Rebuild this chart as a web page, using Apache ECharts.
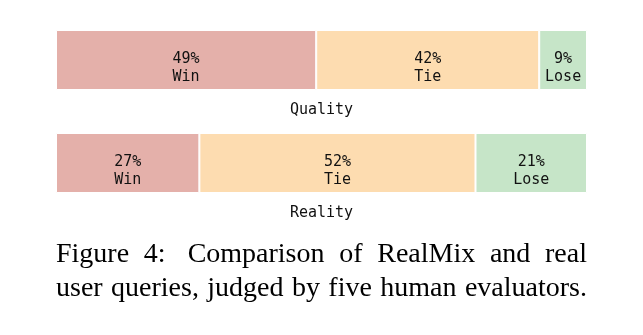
<!DOCTYPE html>
<html>
<head>
<meta charset="utf-8">
<script src="https://cdn.jsdelivr.net/npm/echarts@6/dist/echarts.min.js"></script>
<style>
  html, body { margin: 0; padding: 0; background: #fff; }
  #chart { width: 643px; height: 335px; }
</style>
</head>
<body>
<div id="chart"></div>
<script>
// Share of judgements per aspect (percent)
const aspects = ['Quality', 'Reality'];
const outcomes = ['Win', 'Tie', 'Lose'];
const winValues = [49, 27];
const tieValues = [42, 52];
const loseValues = [9, 21];
const outcomeColors = ['#e4b0aa', '#fddcb0', '#c6e5c8'];
const captionLines = [
  'Figure 4: Comparison of RealMix and real',
  'user queries, judged by five human evaluators.'
];

const valuesByOutcome = [winValues, tieValues, loseValues];
const mono = 'DejaVu Sans Mono';
const serif = 'Liberation Serif';

const chart = echarts.init(document.getElementById('chart'), null, { renderer: 'canvas' });

const grids = [], xAxes = [], yAxes = [], series = [];
const barTops = [30, 133];
aspects.forEach((aspect, i) => {
  grids.push({ left: 56, right: 56, top: barTops[i], height: 60 });
  xAxes.push({
    type: 'value', gridIndex: i, min: 0, max: 100,
    name: aspect, nameLocation: 'middle', nameGap: 13,
    nameTextStyle: { fontFamily: mono, fontSize: 15, color: '#111' },
    axisLine: { show: false }, axisTick: { show: false },
    axisLabel: { show: false }, splitLine: { show: false }
  });
  yAxes.push({
    type: 'category', gridIndex: i, data: [aspect], show: false
  });
  outcomes.forEach((outcome, k) => {
    series.push({
      type: 'bar', name: outcome, stack: 'total' + i,
      xAxisIndex: i, yAxisIndex: i,
      barWidth: '100%',
      data: [valuesByOutcome[k][i]],
      itemStyle: { color: outcomeColors[k], borderColor: '#fff', borderWidth: 1 },
      label: {
        show: true, position: 'inside', offset: [0, 8],
        formatter: p => p.value + '%\n' + p.seriesName,
        fontFamily: mono, fontSize: 15, lineHeight: 18, color: '#111'
      },
      emphasis: { disabled: true }
    });
  });
});

// Justify caption lines across the plot width; the gap after a colon is wider
const ctx = document.createElement('canvas').getContext('2d');
const capSize = 28;
const capFont = capSize + 'px "' + serif + '"';
ctx.font = capFont;
const capLeft = 56, capRight = 587;
const capBaselines = [266, 300];
const graphic = [];
captionLines.forEach((line, li) => {
  const words = line.split(' ');
  const widths = words.map(w => ctx.measureText(w).width);
  const total = widths.reduce((a, b) => a + b, 0);
  const weights = words.slice(0, -1).map(w => (w.endsWith(':') ? 1.5 : 1));
  const unit = (capRight - capLeft - total) / weights.reduce((a, b) => a + b, 0);
  let x = capLeft;
  words.forEach((w, j) => {
    graphic.push({
      type: 'text', left: x, top: capBaselines[li] - capSize * 0.9,
      style: { text: w, font: capFont, fill: '#000' }
    });
    x += widths[j] + (j < weights.length ? weights[j] * unit : 0);
  });
});

chart.setOption({
  animation: false,
  grid: grids,
  xAxis: xAxes,
  yAxis: yAxes,
  series: series,
  graphic: graphic
});
</script>
</body>
</html>
